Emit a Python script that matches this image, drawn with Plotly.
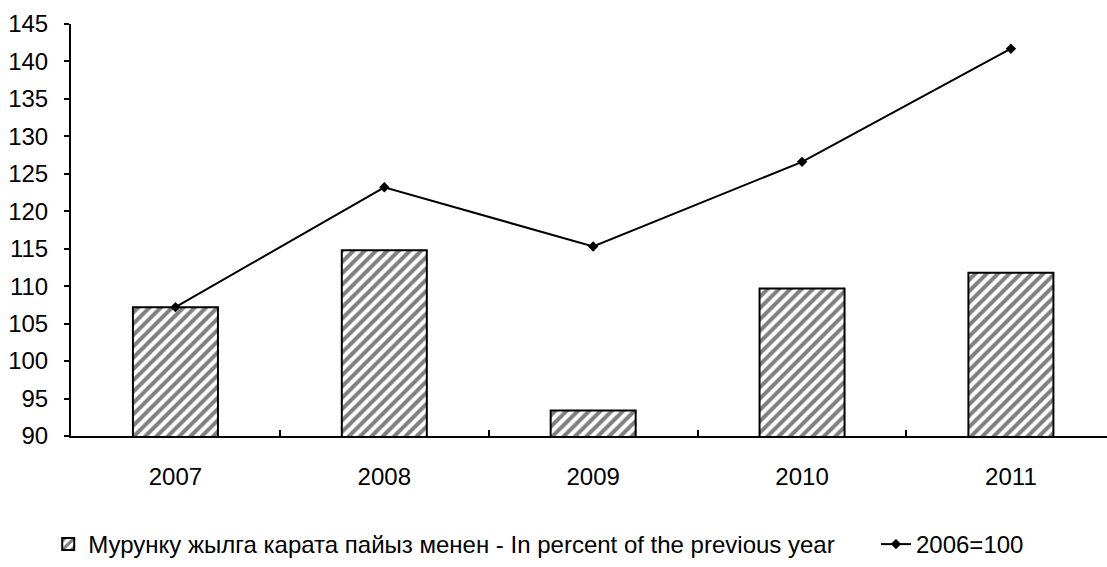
import plotly.graph_objects as go

years = ["2007", "2008", "2009", "2010", "2011"]
pct_prev_year = [107.2, 114.8, 93.4, 109.7, 111.8]
index_2006 = [107.2, 123.2, 115.3, 126.6, 141.7]
y_ticks = [90, 95, 100, 105, 110, 115, 120, 125, 130, 135, 140, 145]

bar_name = "Мурунку жылга карата пайыз менен - In percent of the previous year"
line_name = "2006=100"

FONT = "Liberation Sans, Arial, sans-serif"

fig = go.Figure()
fig.add_trace(go.Bar(
    x=years, y=pct_prev_year, name=bar_name, legend="legend",
    width=0.407,
    marker=dict(color="white", line=dict(color="black", width=2),
                pattern=dict(shape="/", fgcolor="black", bgcolor="white",
                             size=8, solidity=0.5)),
))
fig.add_trace(go.Scatter(
    x=years, y=index_2006, name=line_name, mode="lines+markers", legend="legend2",
    line=dict(color="black", width=2),
    marker=dict(symbol="diamond", size=8, color="black"),
))

fig.update_layout(
    width=1107, height=567,
    margin=dict(l=71, r=0, t=24, b=124),
    paper_bgcolor="white", plot_bgcolor="white",
    font=dict(family=FONT, size=24, color="black"),
    showlegend=True,
    legend=dict(orientation="h", x=-0.022, xanchor="left", y=-0.264, yanchor="middle",
                font=dict(size=24)),
    legend2=dict(orientation="h", x=0.777, xanchor="left", y=-0.264, yanchor="middle",
                 font=dict(size=24)),
)
fig.update_xaxes(
    type="category", range=[-0.5, 4.46],
    showline=True, linecolor="black", linewidth=2,
    ticks="inside", tickson="boundaries", ticklen=6, tickcolor="black", tickwidth=2,
    showgrid=False, zeroline=False, tickfont=dict(size=24), ticklabelstandoff=18,
)
fig.update_yaxes(
    range=[90, 145], tickvals=y_ticks,
    showline=True, linecolor="black", linewidth=2,
    ticks="outside", ticklen=5, tickcolor="black", tickwidth=2,
    showgrid=False, zeroline=False, tickfont=dict(size=24), ticklabelstandoff=11,
)

fig.write_html("out.html", config={"displayModeBar": False},
               post_script="document.body.style.margin='0';")
